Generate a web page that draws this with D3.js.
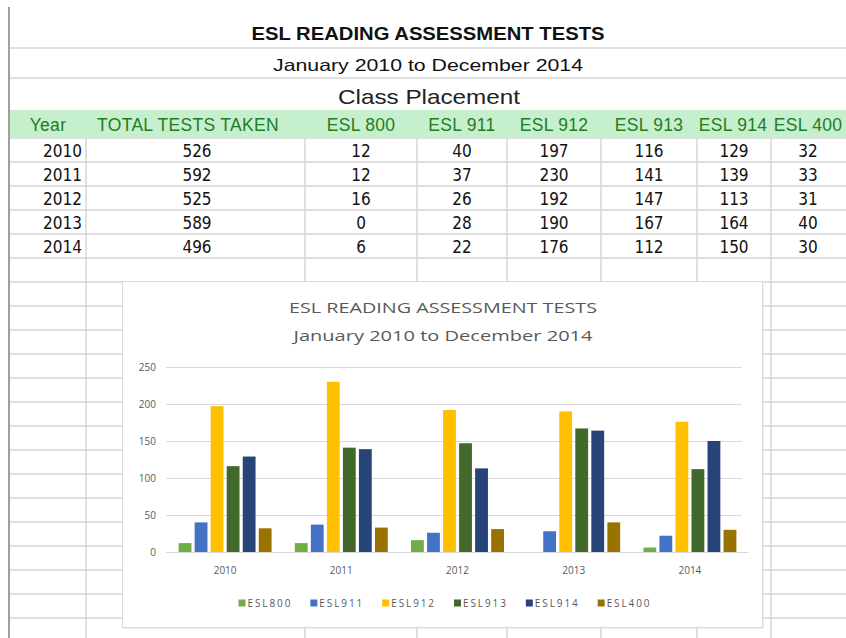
<!DOCTYPE html>
<html>
<head>
<meta charset="utf-8">
<script src="https://cdn.jsdelivr.net/npm/d3@7"></script>
<style>
  body { margin: 0; background: #fff; }
  svg { display: block; }
  .grid line { stroke: #d6d6d6; stroke-width: 1.5; }
  .cell { font-family: "Liberation Sans Narrow", "DejaVu Sans Condensed", sans-serif; font-size: 17px; fill: #111; }
  .hdr { font-family: "Liberation Sans", Arial, sans-serif; font-size: 17.5px; letter-spacing: 0.3px; fill: #1f7d1f; }
  .chart-text { font-family: "Open Sans", "Noto Sans", sans-serif; fill: #595959; }
</style>
</head>
<body>
<svg id="sheet" width="846" height="638"></svg>
<script>
var years = ["2010", "2011", "2012", "2013", "2014"];
var totals = [526, 592, 525, 589, 496];
var seriesNames = ["ESL 800", "ESL 911", "ESL 912", "ESL 913", "ESL 914", "ESL 400"];
var legendNames = ["ESL800", "ESL911", "ESL912", "ESL913", "ESL914", "ESL400"];
var esl800 = [12, 12, 16, 0, 6];
var esl911 = [40, 37, 26, 28, 22];
var esl912 = [197, 230, 192, 190, 176];
var esl913 = [116, 141, 147, 167, 112];
var esl914 = [129, 139, 113, 164, 150];
var esl400 = [32, 33, 31, 40, 30];
var yTicks = [0, 50, 100, 150, 200, 250];
var colors = ["#70ad47", "#4472c4", "#ffc000", "#43682b", "#264478", "#997300"];

var seriesValues = [esl800, esl911, esl912, esl913, esl914, esl400];

var svg = d3.select("#sheet");

// ---- spreadsheet grid ----
var colEdges = [10, 86, 305, 417, 507, 601, 697, 771, 846];
var rowTop = 138, rowH = 24;
var rowLines = d3.range(0, 21).map(function(i) { return rowTop + i * rowH; }).filter(function(y) { return y < 640; });

var grid = svg.append("g").attr("class", "grid");
// top merged rows
[48, 78].forEach(function(y) {
  grid.append("line").attr("x1", 10).attr("x2", 846).attr("y1", y).attr("y2", y);
});
rowLines.forEach(function(y) {
  grid.append("line").attr("x1", 10).attr("x2", 846).attr("y1", y).attr("y2", y);
});
colEdges.slice(1, -1).forEach(function(x) {
  grid.append("line").attr("x1", x).attr("x2", x).attr("y1", rowTop).attr("y2", 638);
});
svg.append("line").attr("x1", 9).attr("x2", 9).attr("y1", 7).attr("y2", 638)
  .attr("stroke", "#a0a0a0").attr("stroke-width", 2);

// titles
svg.append("text").attr("x", 428).attr("y", 40).attr("text-anchor", "middle")
  .attr("font-family", "Liberation Sans, Arial, sans-serif").attr("font-weight", "bold")
  .attr("font-size", 18).attr("fill", "#111").attr("textLength", 353).attr("lengthAdjust", "spacingAndGlyphs")
  .text("ESL READING ASSESSMENT TESTS");
svg.append("text").attr("x", 428).attr("y", 71).attr("text-anchor", "middle")
  .attr("font-family", "Liberation Sans, Arial, sans-serif")
  .attr("font-size", 16.5).attr("fill", "#111").attr("textLength", 310).attr("lengthAdjust", "spacingAndGlyphs")
  .text("January 2010 to December 2014");
svg.append("text").attr("x", 429).attr("y", 104).attr("text-anchor", "middle")
  .attr("font-family", "Liberation Sans, Arial, sans-serif")
  .attr("font-size", 21).attr("fill", "#222").attr("textLength", 182).attr("lengthAdjust", "spacingAndGlyphs")
  .text("Class Placement");

// header row
svg.append("rect").attr("x", 10).attr("y", 110).attr("width", 836).attr("height", 28).attr("fill", "#c6efce");
var headers = ["Year", "TOTAL TESTS TAKEN"].concat(seriesNames);
var headerX = [48, 188, 361, 462, 554, 649, 733, 808];
svg.selectAll(".hdr").data(headers).enter().append("text")
  .attr("class", "hdr")
  .attr("x", function(d, i) { return headerX[i]; })
  .attr("y", 131)
  .attr("text-anchor", "middle")
  .text(function(d) { return d; });

// data rows
var valueX = [197, 361, 462, 554, 649, 734, 808];
years.forEach(function(yr, r) {
  var y = rowTop + r * rowH + 19;
  svg.append("text").attr("class", "cell").attr("x", 82).attr("y", y).attr("text-anchor", "end").text(yr);
  var rowVals = [totals[r]].concat(seriesValues.map(function(s) { return s[r]; }));
  rowVals.forEach(function(v, c) {
    svg.append("text").attr("class", "cell").attr("x", valueX[c]).attr("y", y)
      .attr("text-anchor", "middle").text(v);
  });
});

// ---- embedded chart ----
var box = {x: 122, y: 281, w: 640, h: 346};
svg.append("rect").attr("x", box.x + 1.5).attr("y", box.y + 1.5).attr("width", box.w).attr("height", box.h)
  .attr("fill", "#e6e6e6");
svg.append("rect").attr("x", box.x + 0.5).attr("y", box.y + 0.5).attr("width", box.w).attr("height", box.h)
  .attr("fill", "#fff").attr("stroke", "#d9d9d9");

svg.append("text").attr("class", "chart-text").attr("x", 443).attr("y", 313)
  .attr("text-anchor", "middle").attr("font-size", 15).attr("textLength", 308).attr("lengthAdjust", "spacingAndGlyphs")
  .text("ESL READING ASSESSMENT TESTS");
svg.append("text").attr("class", "chart-text").attr("x", 443).attr("y", 341)
  .attr("text-anchor", "middle").attr("font-size", 15).attr("textLength", 299).attr("lengthAdjust", "spacingAndGlyphs")
  .text("January 2010 to December 2014");

var x0 = d3.scaleBand().domain(years).range([167, 748]).paddingInner(0.2).paddingOuter(0.1);
var x1 = d3.scaleBand().domain(legendNames).range([0, x0.bandwidth()]).paddingInner(0.2);
var y = d3.scaleLinear().domain([0, 250]).range([552, 367]);

var g = svg.append("g");

g.append("g")
  .attr("transform", "translate(166,0)")
  .call(d3.axisLeft(y).tickValues(yTicks).tickSize(-576).tickPadding(10))
  .call(function(a) {
    a.select(".domain").remove();
    a.selectAll(".tick line").attr("stroke", "#d9d9d9").attr("stroke-width", 1.2);
    a.selectAll(".tick text").attr("fill", "#595959").attr("font-size", 10)
      .attr("font-family", "Open Sans, Noto Sans, sans-serif");
  });

g.append("g")
  .attr("transform", "translate(0,552)")
  .call(d3.axisBottom(x0).tickSize(0).tickPadding(15))
  .call(function(a) {
    a.select(".domain").attr("stroke", "#d9d9d9").attr("stroke-width", 1.2);
    a.selectAll(".tick text").attr("fill", "#595959").attr("font-size", 10)
      .attr("font-family", "Open Sans, Noto Sans, sans-serif");
  });

legendNames.forEach(function(name, si) {
  g.selectAll(".bar" + si)
    .data(seriesValues[si])
    .enter().append("rect")
    .attr("class", "bar" + si)
    .attr("x", function(d, i) { return x0(years[i]) + x1(name); })
    .attr("width", x1.bandwidth())
    .attr("y", function(d) { return y(d); })
    .attr("height", function(d) { return y(0) - y(d); })
    .attr("fill", colors[si]);
});

// legend
var legend = svg.append("g");
var lx = 0, gap = 18;
legendNames.forEach(function(name, i) {
  var item = legend.append("g").attr("transform", "translate(" + lx + ",0)");
  item.append("rect").attr("x", 0).attr("y", -7.5).attr("width", 7).attr("height", 7).attr("fill", colors[i]);
  var t = item.append("text").attr("class", "chart-text").attr("x", 9).attr("y", 0)
    .attr("font-size", 10).attr("letter-spacing", 1.9).text(name);
  lx += 9 + t.node().getComputedTextLength() + gap;
});
legend.attr("transform", "translate(" + (445 - (lx - gap) / 2) + ",607)");
</script>
</body>
</html>
